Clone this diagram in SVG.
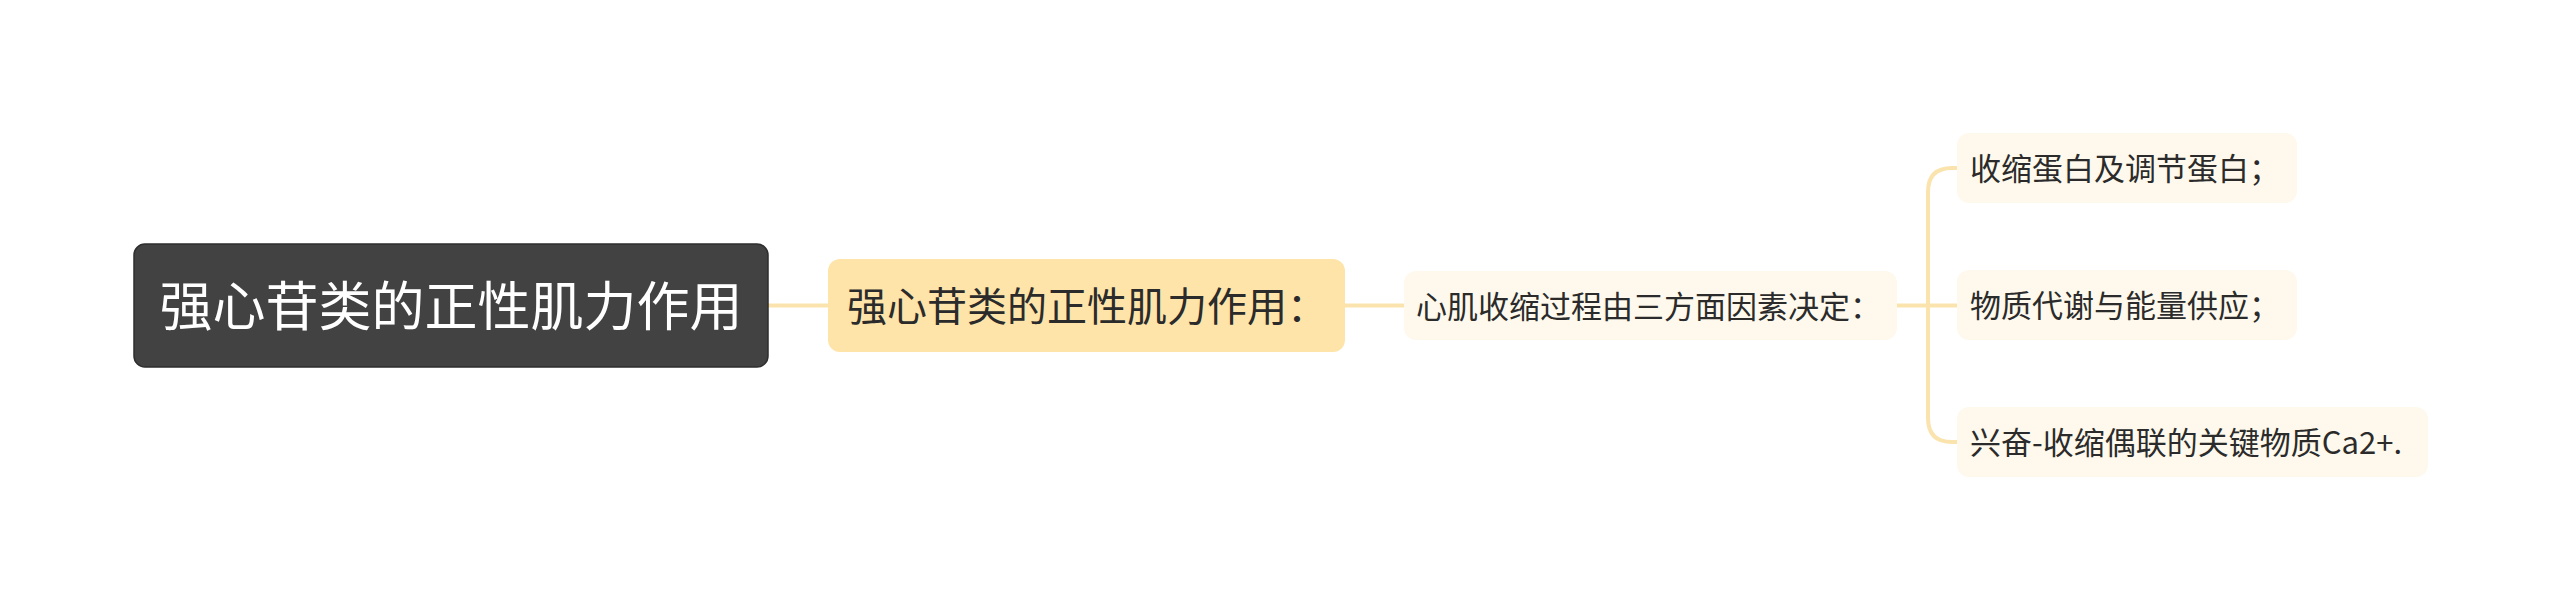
<svg xmlns="http://www.w3.org/2000/svg" width="2560" height="611" viewBox="0 0 2560 611">
<style>
.t{font-family:"Noto Sans CJK SC","Noto Sans",sans-serif;}
.root{fill:#424242;stroke:#2e2e2e;stroke-width:1.5;}
.l1{fill:#FFE4A9;}
.l2{fill:#FEF9EC;}
.conn{fill:none;stroke:#FBE3AE;stroke-width:4;stroke-linecap:round;}
</style>
<rect width="2560" height="611" fill="#ffffff"/>
<g id="connectors">
<path class="conn" d="M768 305.5 H828"/>
<path class="conn" d="M1345 305.5 H1404"/>
<path class="conn" d="M1897 305.5 H1957"/>
<path class="conn" d="M1957 168 H1952 Q1928 168 1928 192 V418 Q1928 442 1952 442 H1957"/>
</g>
<g id="node-root">
<rect class="root" x="134" y="244" width="634" height="123" rx="11"/>
<text class="t" x="451" y="325.5" font-size="53" fill="#ffffff" text-anchor="middle">强心苷类的正性肌力作用</text>
</g>
<g id="node-main">
<rect class="l1" x="828" y="259" width="517" height="93" rx="12"/>
<text class="t" x="847" y="320.5" font-size="40" fill="#2b2b2b">强心苷类的正性肌力作用：</text>
</g>
<g id="node-factors">
<rect class="l2" x="1404" y="271" width="493" height="69" rx="12"/>
<text class="t" x="1416" y="318" font-size="31" fill="#2b2b2b">心肌收缩过程由三方面因素决定：</text>
</g>
<g id="node-protein">
<rect class="l2" x="1957" y="133" width="340" height="70" rx="12"/>
<text class="t" x="1970" y="180" font-size="31" fill="#2b2b2b">收缩蛋白及调节蛋白；</text>
</g>
<g id="node-energy">
<rect class="l2" x="1957" y="270" width="340" height="70" rx="12"/>
<text class="t" x="1970" y="317" font-size="31" fill="#2b2b2b">物质代谢与能量供应；</text>
</g>
<g id="node-calcium">
<rect class="l2" x="1957" y="407" width="471" height="70" rx="12"/>
<text class="t" x="1970" y="454" font-size="31" fill="#2b2b2b">兴奋-收缩偶联的关键物质Ca2+.</text>
</g>
</svg>
